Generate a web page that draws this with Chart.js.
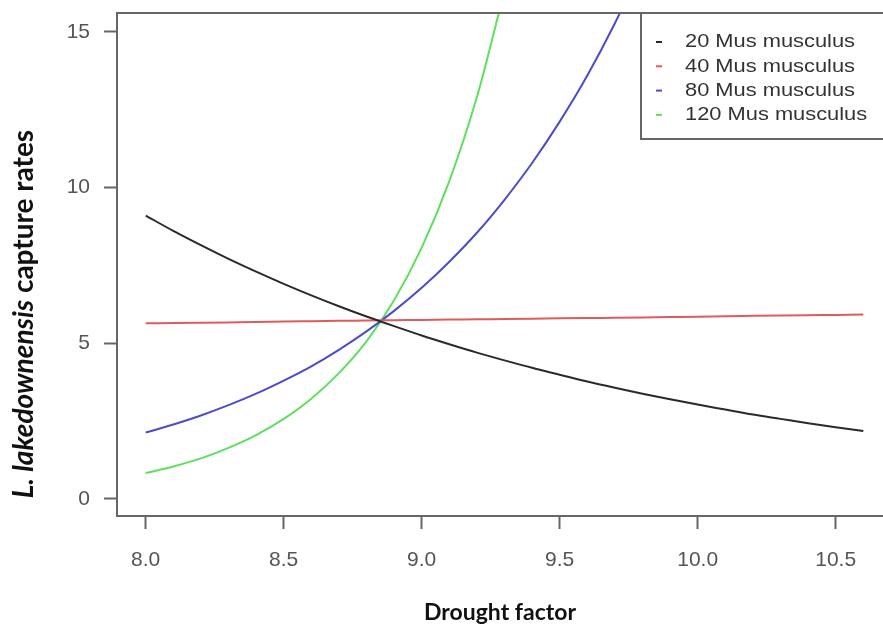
<!DOCTYPE html>
<html>
<head>
<meta charset="utf-8">
<script src="https://cdn.jsdelivr.net/npm/chart.js@4.4.0/dist/chart.umd.min.js"></script>
<style>
  html, body { margin: 0; padding: 0; background: #fff; overflow: hidden; }
  canvas { display: block; }
</style>
</head>
<body>
<canvas id="chart" width="900" height="624"></canvas>
<script>
// drought factor grid (x)
const droughtX = [8.0, 8.1, 8.2, 8.3, 8.4, 8.5, 8.6, 8.7, 8.8, 8.9, 9.0, 9.1, 9.2, 9.3,
  9.4, 9.5, 9.6, 9.7, 9.8, 9.9, 10.0, 10.1, 10.2, 10.3, 10.4, 10.5, 10.6];

// capture rates
const mus20 = [9.10, 8.61, 8.15, 7.71, 7.30, 6.91, 6.54, 6.19, 5.86, 5.55, 5.25, 4.97, 4.70, 4.45,
  4.21, 3.99, 3.77, 3.57, 3.38, 3.20, 3.03, 2.87, 2.71, 2.57, 2.43, 2.30, 2.18];
const mus40 = [5.64, 5.65, 5.66, 5.67, 5.68, 5.70, 5.71, 5.72, 5.73, 5.74, 5.75, 5.76, 5.77, 5.78,
  5.79, 5.80, 5.81, 5.82, 5.83, 5.84, 5.85, 5.87, 5.88, 5.89, 5.90, 5.91, 5.92];
const mus80 = [2.13, 2.39, 2.68, 3.01, 3.38, 3.80, 4.26, 4.79, 5.38, 6.04, 6.78, 7.62, 8.55, 9.61,
  10.79, 12.12, 13.60, 15.28, 17.16];
const mus120 = [0.83, 1.04, 1.30, 1.64, 2.05, 2.57, 3.22, 4.04, 5.06, 6.38, 8.07, 10.21, 12.91, 16.33];

const seriesLabels = ["20 Mus musculus", "40 Mus musculus", "80 Mus musculus", "120 Mus musculus"];
const seriesColors = ["#2a2a2a", "#e05a5a", "#4b4bcc", "#5ee05e"];
const xTicks = [8.0, 8.5, 9.0, 9.5, 10.0, 10.5];
const yTicks = [0, 5, 10, 15];

function points(ys) {
  return ys.map((y, i) => ({ x: droughtX[i], y: y }));
}

const allSeries = [mus20, mus40, mus80, mus120];

const decor = {
  id: "decor",
  afterDraw(chart) {
    const ctx = chart.ctx;
    const a = chart.chartArea;
    ctx.save();

    // plot frame
    ctx.strokeStyle = "#666";
    ctx.lineWidth = 2;
    ctx.strokeRect(a.left, a.top, a.right - a.left, a.bottom - a.top);

    // legend box, top right
    const bx = a.right - 251, by = a.top, bh = 126;
    ctx.fillStyle = "#fff";
    ctx.fillRect(bx, by, a.right - bx, bh);
    ctx.strokeRect(bx, by, a.right - bx + 10, bh);
    ctx.font = "19px 'Liberation Sans'";
    ctx.textBaseline = "middle";
    seriesLabels.forEach((lab, i) => {
      const ly = by + 29 + i * 24.3;
      ctx.strokeStyle = seriesColors[i];
      ctx.beginPath();
      ctx.moveTo(bx + 15, ly);
      ctx.lineTo(bx + 21, ly);
      ctx.stroke();
      ctx.fillStyle = "#333";
      ctx.save();
      ctx.translate(bx + 44, ly);
      ctx.scale(1.15, 1);
      ctx.fillText(lab, 0, 0);
      ctx.restore();
    });

    // x title
    ctx.fillStyle = "#111";
    ctx.textAlign = "center";
    ctx.textBaseline = "alphabetic";
    ctx.font = "bold 23px Lato";
    ctx.fillText("Drought factor", 500, 620);

    // y title with italic species name
    ctx.translate(33, 314);
    ctx.rotate(-Math.PI / 2);
    const p1 = "L. lakedownensis", p2 = " capture rates";
    ctx.font = "italic bold 28px Lato";
    const w1 = ctx.measureText(p1).width;
    ctx.font = "bold 28px Lato";
    const w2 = ctx.measureText(p2).width;
    const sx = -(w1 + w2) / 2;
    ctx.textAlign = "left";
    ctx.font = "italic bold 28px Lato";
    ctx.fillText(p1, sx, 0);
    ctx.font = "bold 28px Lato";
    ctx.fillText(p2, sx + w1, 0);

    ctx.restore();
  }
};

new Chart(document.getElementById("chart"), {
  type: "line",
  data: {
    datasets: allSeries.map((ys, i) => ({
      label: seriesLabels[i],
      data: points(ys),
      borderColor: seriesColors[i],
      borderWidth: 2,
      pointRadius: 0,
      cubicInterpolationMode: "monotone",
      fill: false
    }))
  },
  options: {
    responsive: false,
    animation: false,
    layout: { padding: { top: 13, right: 8, left: 0, bottom: 0 } },
    plugins: { legend: { display: false }, tooltip: { enabled: false } },
    scales: {
      x: {
        type: "linear",
        min: 7.896,
        max: 10.704,
        afterBuildTicks: s => { s.ticks = xTicks.map(v => ({ value: v })); },
        afterFit: s => { s.height = 108; s.paddingLeft = 0; s.paddingRight = 0; },
        grid: { drawOnChartArea: false, drawTicks: true, tickLength: 13, tickColor: "#666", tickWidth: 2 },
        border: { display: false },
        ticks: {
          color: "#555",
          font: { family: "Liberation Sans", size: 21 },
          padding: 19,
          maxRotation: 0,
          autoSkip: false,
          callback: v => v.toFixed(1)
        }
      },
      y: {
        type: "linear",
        min: -0.55,
        max: 15.61,
        afterBuildTicks: s => { s.ticks = yTicks.map(v => ({ value: v })); },
        afterFit: s => { s.width = 117; s.paddingTop = 0; s.paddingBottom = 0; },
        grid: { drawOnChartArea: false, drawTicks: true, tickLength: 13, tickColor: "#666", tickWidth: 2 },
        border: { display: false },
        ticks: {
          color: "#555",
          font: { family: "Liberation Sans", size: 21 },
          padding: 14,
          autoSkip: false
        }
      }
    }
  },
  plugins: [decor]
});
</script>
</body>
</html>
